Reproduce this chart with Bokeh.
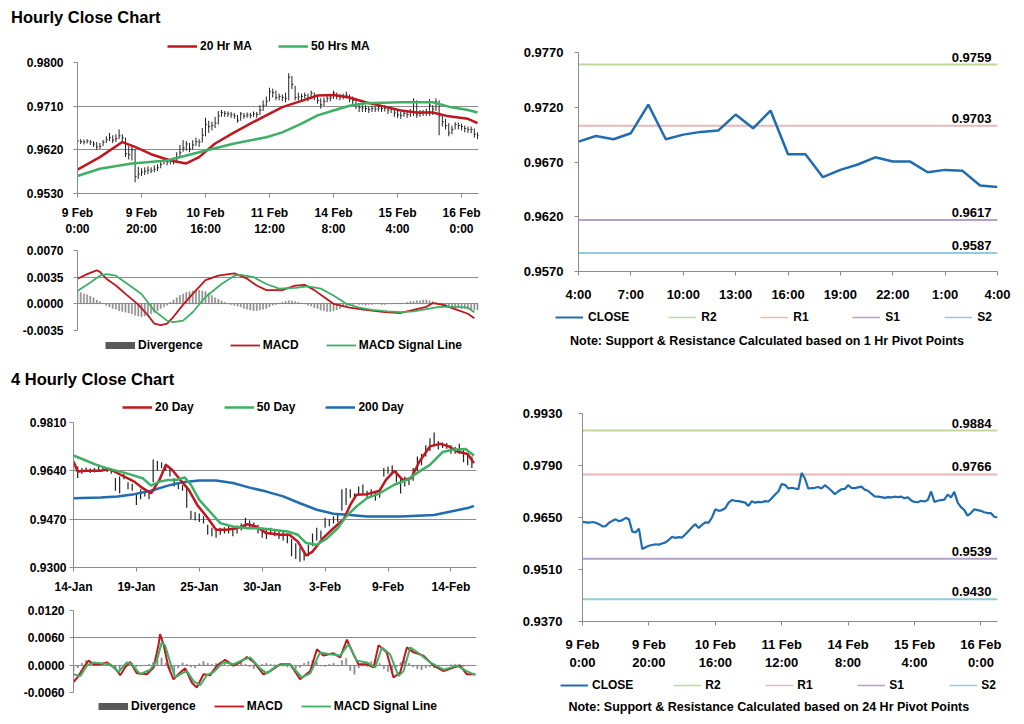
from bokeh.plotting import figure
from bokeh.models import (Range1d, FixedTicker, NumeralTickFormatter, Legend, LegendItem,
                          Label, Div, ColumnDataSource, Spacer)
from bokeh.layouts import column, row
from bokeh.core.properties import value
from bokeh.embed import file_html
from bokeh.resources import INLINE

# ---------------------------------------------------------------- data
# hourly close, 9 Feb 0:00 ... 16 Feb (126 hours)
hr_close = [
    0.9638, 0.9637, 0.9636, 0.9638, 0.9636, 0.9632, 0.9626, 0.9627, 0.9636, 0.9641,
    0.9645, 0.9640, 0.9643, 0.9649, 0.9645, 0.9612, 0.9610, 0.9620, 0.9565, 0.9570,
    0.9574, 0.9576, 0.9578, 0.9577, 0.9580, 0.9583, 0.9590, 0.9598, 0.9595, 0.9597,
    0.9596, 0.9605, 0.9614, 0.9624, 0.9632, 0.9622, 0.9630, 0.9637, 0.9636, 0.9650,
    0.9672, 0.9668, 0.9670, 0.9675, 0.9690, 0.9697, 0.9695, 0.9694, 0.9692, 0.9690,
    0.9681, 0.9694, 0.9690, 0.9692, 0.9691, 0.9694, 0.9693, 0.9702, 0.9712, 0.9720,
    0.9740, 0.9738, 0.9728, 0.9730, 0.9728, 0.9726, 0.9770, 0.9755, 0.9728, 0.9729,
    0.9730, 0.9732, 0.9728, 0.9737, 0.9730, 0.9722, 0.9713, 0.9720, 0.9726, 0.9727,
    0.9737, 0.9730, 0.9729, 0.9731, 0.9733, 0.9725, 0.9722, 0.9714, 0.9707, 0.9706,
    0.9705, 0.9703, 0.9705, 0.9704, 0.9706, 0.9705, 0.9706, 0.9702, 0.9704, 0.9696,
    0.9692, 0.9691, 0.9695, 0.9693, 0.9697, 0.9720, 0.9692, 0.9695, 0.9697, 0.9698,
    0.9712, 0.9704, 0.9719, 0.9690, 0.9678, 0.9670, 0.9655, 0.9662, 0.9672, 0.9670,
    0.9668, 0.9664, 0.9662, 0.9662, 0.9652, 0.9650]
hr_high = [
    0.9650, 0.9642, 0.9641, 0.9642, 0.9640, 0.9638, 0.9636, 0.9634, 0.9640, 0.9648,
    0.9655, 0.9650, 0.9652, 0.9662, 0.9652, 0.9645, 0.9628, 0.9630, 0.9622, 0.9585,
    0.9582, 0.9584, 0.9586, 0.9584, 0.9588, 0.9590, 0.9598, 0.9604, 0.9603, 0.9602,
    0.9604, 0.9615, 0.9630, 0.9640, 0.9638, 0.9634, 0.9640, 0.9645, 0.9642, 0.9665,
    0.9686, 0.9680, 0.9678, 0.9688, 0.9700, 0.9702, 0.9700, 0.9699, 0.9698, 0.9696,
    0.9692, 0.9698, 0.9696, 0.9697, 0.9696, 0.9699, 0.9698, 0.9712, 0.9722, 0.9730,
    0.9748, 0.9746, 0.9742, 0.9736, 0.9734, 0.9738, 0.9778, 0.9772, 0.9752, 0.9738,
    0.9736, 0.9738, 0.9736, 0.9742, 0.9738, 0.9732, 0.9726, 0.9728, 0.9732, 0.9733,
    0.9742, 0.9738, 0.9735, 0.9736, 0.9740, 0.9734, 0.9730, 0.9724, 0.9716, 0.9712,
    0.9712, 0.9710, 0.9711, 0.9710, 0.9712, 0.9710, 0.9712, 0.9710, 0.9709, 0.9704,
    0.9700, 0.9698, 0.9700, 0.9700, 0.9704, 0.9726, 0.9722, 0.9702, 0.9702, 0.9705,
    0.9725, 0.9712, 0.9726, 0.9722, 0.9690, 0.9684, 0.9675, 0.9670, 0.9677, 0.9676,
    0.9674, 0.9670, 0.9668, 0.9668, 0.9664, 0.9656]
hr_low = [
    0.9630, 0.9632, 0.9631, 0.9633, 0.9630, 0.9626, 0.9620, 0.9622, 0.9628, 0.9634,
    0.9638, 0.9634, 0.9636, 0.9642, 0.9636, 0.9605, 0.9600, 0.9598, 0.9553, 0.9560,
    0.9566, 0.9568, 0.9570, 0.9572, 0.9574, 0.9576, 0.9582, 0.9590, 0.9588, 0.9590,
    0.9590, 0.9596, 0.9605, 0.9616, 0.9618, 0.9615, 0.9620, 0.9628, 0.9626, 0.9635,
    0.9648, 0.9655, 0.9660, 0.9665, 0.9672, 0.9688, 0.9688, 0.9688, 0.9686, 0.9684,
    0.9676, 0.9680, 0.9684, 0.9686, 0.9685, 0.9688, 0.9686, 0.9692, 0.9700, 0.9710,
    0.9720, 0.9728, 0.9722, 0.9722, 0.9720, 0.9718, 0.9722, 0.9745, 0.9722, 0.9722,
    0.9722, 0.9726, 0.9720, 0.9726, 0.9722, 0.9715, 0.9705, 0.9710, 0.9718, 0.9720,
    0.9725, 0.9724, 0.9722, 0.9724, 0.9726, 0.9718, 0.9714, 0.9704, 0.9698, 0.9698,
    0.9698, 0.9696, 0.9698, 0.9698, 0.9699, 0.9698, 0.9699, 0.9694, 0.9696, 0.9688,
    0.9686, 0.9684, 0.9688, 0.9686, 0.9688, 0.9690, 0.9686, 0.9688, 0.9690, 0.9690,
    0.9690, 0.9692, 0.9700, 0.9650, 0.9668, 0.9662, 0.9648, 0.9652, 0.9662, 0.9662,
    0.9660, 0.9656, 0.9655, 0.9654, 0.9645, 0.9642]

ma20_hr_x = [0, 7, 14, 18, 23, 29, 34, 38, 43, 49, 54, 59, 64, 70, 75, 80, 85, 90, 96, 101, 106, 111, 116, 122, 125]
ma20_hr = [0.9579, 0.9605, 0.9636, 0.9626, 0.9611, 0.9598, 0.9592, 0.9605, 0.9633, 0.9656,
           0.9674, 0.9691, 0.9708, 0.9721, 0.9732, 0.9733, 0.9728, 0.9718, 0.9709, 0.9701,
           0.9697, 0.9697, 0.9689, 0.9684, 0.9675]
ma50_hr_x = [0, 7, 17, 28, 38, 49, 59, 64, 70, 75, 80, 85, 90, 101, 111, 116, 122, 125]
ma50_hr = [0.9566, 0.9581, 0.9592, 0.9598, 0.9615, 0.9633, 0.9646, 0.9656, 0.9674, 0.9691,
           0.9701, 0.9711, 0.9716, 0.9718, 0.9718, 0.9709, 0.9702, 0.9697]

macd_hr_x = [0, 3, 6, 7, 9, 12, 15, 19, 22, 24, 26, 28, 30, 33, 36, 40, 44, 49, 53, 56,
             59, 64, 68, 71, 74, 77, 80, 85, 90, 96, 101, 105, 109, 111, 114, 118, 122, 124]
macd_hr = [0.0033, 0.0039, 0.0044, 0.0042, 0.0033, 0.0024, 0.0013, -0.0001, -0.0015, -0.0026,
           -0.0028, -0.0026, -0.0017, -0.0001, 0.0013, 0.0031, 0.0037, 0.0040, 0.0033, 0.0024,
           0.0018, 0.0018, 0.0024, 0.0025, 0.0018, 0.0009, 0.0000, -0.0005, -0.0008, -0.0011,
           -0.0012, -0.0008, -0.0004, 0.0001, -0.0001, -0.0007, -0.0013, -0.0019]
sig_hr_x = [0, 4, 7, 9, 12, 15, 20, 24, 28, 30, 33, 36, 40, 45, 49, 51, 55, 59, 63, 68,
            72, 76, 80, 84, 88, 92, 97, 101, 105, 109, 113, 118, 122, 124]
sig_hr = [0.0017, 0.0028, 0.0037, 0.0039, 0.0037, 0.0028, 0.0013, -0.0009, -0.0022, -0.0024,
          -0.0022, -0.0011, 0.0009, 0.0026, 0.0037, 0.0038, 0.0035, 0.0026, 0.0020, 0.0021,
          0.0023, 0.0020, 0.0011, 0.0000, -0.0005, -0.0008, -0.0010, -0.0011, -0.0010, -0.0007,
          -0.0004, -0.0004, -0.0005, -0.0011]
div_hr = [
    0.0016, 0.0015, 0.0013, 0.0012, 0.0010, 0.0008, 0.0005, 0.0003, 0.0001,
    -0.0002, -0.0004, -0.0006, -0.0007, -0.0009, -0.0010,
    -0.0011, -0.0012, -0.0013, -0.0015, -0.0016, -0.0017, -0.0016, -0.0015,
    -0.0013, -0.0011, -0.0009, -0.0006, -0.0004, -0.0002,
    0.0002, 0.0005, 0.0008, 0.0011, 0.0013, 0.0015, 0.0016, 0.0017, 0.0018, 0.0018,
    0.0017, 0.0016, 0.0014, 0.0011, 0.0008,
    0.0006, 0.0004, 0.0002, 0.0000, -0.0001, -0.0002, -0.0003, -0.0004, -0.0006,
    -0.0007, -0.0008, -0.0009, -0.0009, -0.0008, -0.0007, -0.0006, -0.0004, -0.0002, -0.0001,
    0.0001, 0.0002, 0.0003, 0.0004, 0.0004, 0.0003, 0.0002, 0.0001, 0.0000,
    -0.0002, -0.0003, -0.0005, -0.0006, -0.0008, -0.0009, -0.0010, -0.0010, -0.0009,
    -0.0008, -0.0006, -0.0004, -0.0002,
    -0.0001, -0.0001, 0.0000, -0.0001, -0.0001, -0.0002, -0.0001, -0.0001, 0.0000, 0.0000,
    -0.0001, -0.0001, 0.0000, 0.0000, 0.0001, 0.0000, 0.0001, 0.0001, 0.0002,
    0.0003, 0.0003, 0.0004, 0.0004, 0.0005, 0.0005, 0.0004, 0.0003, 0.0002,
    0.0000, -0.0002, -0.0003, -0.0004, -0.0004, -0.0005, -0.0005, -0.0006, -0.0006,
    -0.0007, -0.0007, -0.0008, -0.0008]

hr_tick_labels = ["9 Feb\n0:00", "9 Feb\n20:00", "10 Feb\n16:00", "11 Feb\n12:00",
                  "14 Feb\n8:00", "15 Feb\n4:00", "16 Feb\n0:00"]
hr_tick_step = 20

# last 24 hours close (4:00 -> 4:00)
close24 = [0.96886, 0.96938, 0.96908, 0.96963, 0.97224, 0.96908, 0.96950, 0.96975, 0.96987,
           0.97133, 0.97008, 0.97170, 0.96771, 0.96771, 0.96561, 0.96628, 0.96677, 0.96743,
           0.96704, 0.96704, 0.96606, 0.96628, 0.96619, 0.96485, 0.96472]
h24_tick_labels = ["4:00", "7:00", "10:00", "13:00", "16:00", "19:00", "22:00", "1:00", "4:00"]
h24_tick_step = 3
pivot_names = ["R2", "R1", "S1", "S2"]
pivot_1h = [0.9759, 0.9703, 0.9617, 0.9587]
pivot_24h = [0.9884, 0.9766, 0.9539, 0.9430]

# 4-hourly chart (bar index), price bars every 2nd bar
b4_high = [
    0.9668, 0.9655, 0.9650, 0.9652, 0.9648, 0.9650, 0.9662, 0.9655, 0.9650, 0.9648,
    0.9615, 0.9620, 0.9630, 0.9600, 0.9595, 0.9560, 0.9575, 0.9570, 0.9568, 0.9680,
    0.9675, 0.9670, 0.9665, 0.9650, 0.9615, 0.9600, 0.9590, 0.9585, 0.9500, 0.9495,
    0.9490, 0.9480, 0.9450, 0.9440, 0.9438, 0.9440, 0.9442, 0.9445, 0.9440, 0.9448,
    0.9455, 0.9475, 0.9465, 0.9458, 0.9450, 0.9440, 0.9435, 0.9440, 0.9435, 0.9428,
    0.9425, 0.9420, 0.9400, 0.9385, 0.9370, 0.9360, 0.9380, 0.9420, 0.9440, 0.9430,
    0.9475, 0.9470, 0.9480, 0.9490, 0.9575, 0.9580, 0.9575, 0.9560, 0.9585, 0.9592,
    0.9570, 0.9575, 0.9565, 0.9570, 0.9650, 0.9655, 0.9660, 0.9640, 0.9610, 0.9620,
    0.9615, 0.9650, 0.9690, 0.9700, 0.9730, 0.9755, 0.9775, 0.9745, 0.9740, 0.9738,
    0.9730, 0.9725, 0.9735, 0.9715, 0.9700, 0.9690]
b4_low = [
    0.9640, 0.9615, 0.9630, 0.9636, 0.9632, 0.9634, 0.9640, 0.9640, 0.9636, 0.9630,
    0.9570, 0.9560, 0.9610, 0.9575, 0.9570, 0.9520, 0.9540, 0.9550, 0.9540, 0.9600,
    0.9640, 0.9650, 0.9640, 0.9620, 0.9585, 0.9575, 0.9570, 0.9510, 0.9470, 0.9465,
    0.9460, 0.9455, 0.9415, 0.9410, 0.9405, 0.9415, 0.9420, 0.9420, 0.9410, 0.9420,
    0.9430, 0.9440, 0.9440, 0.9435, 0.9420, 0.9405, 0.9400, 0.9415, 0.9410, 0.9400,
    0.9395, 0.9385, 0.9340, 0.9330, 0.9320, 0.9325, 0.9340, 0.9375, 0.9395, 0.9400,
    0.9440, 0.9445, 0.9455, 0.9460, 0.9500, 0.9520, 0.9545, 0.9540, 0.9555, 0.9560,
    0.9545, 0.9550, 0.9535, 0.9545, 0.9620, 0.9630, 0.9630, 0.9600, 0.9560, 0.9585,
    0.9590, 0.9605, 0.9640, 0.9660, 0.9690, 0.9710, 0.9730, 0.9715, 0.9720, 0.9718,
    0.9700, 0.9700, 0.9700, 0.9670, 0.9660, 0.9650]
ma20d_x = [0, 2, 6, 13, 17, 22, 29, 33, 37, 41, 44, 47, 51, 55, 59, 64, 68, 73, 78, 83,
           87, 92, 99, 103, 107, 111, 114, 119, 124, 129, 132, 135, 140, 146, 149, 153, 157, 161, 165, 170,
           175, 179, 183, 188, 191]
ma20d = [0.9673, 0.9638, 0.9640, 0.9640, 0.9647, 0.9628, 0.9602, 0.9579, 0.9561, 0.9608,
         0.9661, 0.9644, 0.9608, 0.9573, 0.9520, 0.9474, 0.9433, 0.9433, 0.9438, 0.9452,
         0.9444, 0.9421, 0.9415, 0.9415, 0.9391, 0.9342, 0.9356, 0.9403, 0.9438, 0.9471,
         0.9520, 0.9556, 0.9558, 0.9570, 0.9608, 0.9640, 0.9608, 0.9614, 0.9673, 0.9726,
         0.9735, 0.9726, 0.9708, 0.9699, 0.9667]
ma50d_x = [0, 5, 11, 17, 25, 33, 37, 41, 45, 49, 53, 56, 60, 65, 70, 76, 83, 89, 95, 102,
           107, 111, 116, 121, 126, 130, 135, 140, 146, 153, 159, 165, 170, 176, 181, 187, 191]
ma50d = [0.9694, 0.9679, 0.9661, 0.9647, 0.9632, 0.9614, 0.9588, 0.9602, 0.9608, 0.9608,
         0.9617, 0.9591, 0.9538, 0.9497, 0.9456, 0.9444, 0.9438, 0.9438, 0.9433, 0.9427,
         0.9415, 0.9386, 0.9380, 0.9403, 0.9438, 0.9479, 0.9515, 0.9544, 0.9561, 0.9591,
         0.9608, 0.9638, 0.9661, 0.9706, 0.9714, 0.9717, 0.9694]
ma200d_x = [0, 13, 21, 29, 37, 45, 52, 60, 68, 76, 84, 92, 100, 108, 116, 124, 132, 140, 148, 156,
            164, 172, 180, 188, 191]
ma200d = [0.9544, 0.9546, 0.9550, 0.9558, 0.9570, 0.9588, 0.9600, 0.9606, 0.9606, 0.9597,
          0.9581, 0.9567, 0.9550, 0.9526, 0.9503, 0.9489, 0.9485, 0.9479, 0.9479, 0.9479,
          0.9482, 0.9485, 0.9497, 0.9509, 0.9517]
macd4_x = [0, 2.4, 4.8, 7.2, 9.5, 12.7, 15.9, 19.9, 22.3, 24.6, 27.0, 30.2, 35.0, 38.2, 40.5, 41.3,
           42.9, 45.3, 47.7, 50.9, 53.3, 56.4, 58.8, 62.0, 65.2, 68.4, 72.3, 76.3, 79.5, 82.7, 85.9,
           90.6, 93.8, 98.6, 103.3, 108.1, 112.9, 116.1, 119.2, 124.0, 127.2, 130.4, 133.5, 135.9,
           139.9, 143.1, 145.5, 149.4, 152.6, 155.8, 159.0, 162.2, 166.9, 171.7, 176.5, 181.2,
           184.4, 187.6, 191.6]
macd4 = [-0.0037, -0.0024, -0.0005, 0.0010, 0.0002, 0.0002, 0.0006, -0.0007, -0.0022, -0.0005,
         0.0007, -0.0018, -0.0020, -0.0005, 0.0043, 0.0068, 0.0046, -0.0005, -0.0031, -0.0016,
         -0.0007, -0.0038, -0.0049, -0.0020, -0.0022, -0.0001, 0.0012, -0.0001, 0.0006, 0.0018,
         0.0007, -0.0020, -0.0013, 0.0002, 0.0002, -0.0031, -0.0013, 0.0035, 0.0021, 0.0026,
         0.0017, 0.0056, 0.0024, 0.0002, 0.0002, -0.0005, 0.0044, 0.0028, -0.0027, -0.0016,
         0.0039, 0.0028, 0.0021, -0.0001, -0.0013, -0.0005, -0.0001, -0.0020, -0.0020]
sig4_x = [0, 3.2, 6.4, 9.5, 12.7, 17.5, 21.5, 25.4, 27.8, 31.8, 36.6, 39.7, 42.1, 43.7, 46.1,
          48.5, 51.7, 54.1, 57.2, 60.4, 63.6, 66.8, 71.5, 76.3, 81.1, 84.3, 89.0, 92.2, 97.0,
          103.3, 108.9, 112.9, 117.6, 122.4, 127.2, 131.2, 135.1, 139.9, 143.9, 147.1, 151.0,
          155.0, 157.4, 160.6, 165.3, 170.1, 176.5, 182.8, 187.6, 191.6]
sig4 = [-0.0020, -0.0024, -0.0001, 0.0006, 0.0004, 0.0002, -0.0015, 0.0006, 0.0002, -0.0020,
        -0.0010, 0.0010, 0.0050, 0.0043, 0.0006, -0.0027, -0.0018, -0.0013, -0.0035, -0.0044,
        -0.0022, -0.0015, 0.0007, 0.0002, 0.0012, 0.0017, -0.0007, -0.0018, -0.0001, 0.0002,
        -0.0027, -0.0018, 0.0028, 0.0024, 0.0021, 0.0046, 0.0010, 0.0006, -0.0005, 0.0039,
        0.0024, -0.0024, -0.0013, 0.0039, 0.0024, 0.0006, -0.0010, -0.0001, -0.0013, -0.0022]
div4 = [
    -0.0012, -0.0006, 0.0004, 0.0010, 0.0008, 0.0002,
    0.0000, 0.0002, 0.0004, -0.0002, -0.0006, -0.0009,
    -0.0004, 0.0006, 0.0004, -0.0004, -0.0002, -0.0001,
    0.0002, 0.0006, 0.0012, 0.0016, 0.0005, -0.0013,
    -0.0020, -0.0006, 0.0005, 0.0002, -0.0004, -0.0006,
    0.0003, 0.0008, 0.0004, 0.0002, 0.0004, 0.0006,
    0.0004, -0.0002, -0.0002, 0.0003, 0.0004, 0.0002,
    -0.0003, -0.0008, -0.0006, 0.0002, 0.0004, 0.0002,
    0.0001, 0.0000, -0.0002, -0.0004, -0.0006, -0.0008,
    -0.0005, 0.0004, 0.0008, 0.0010, 0.0006, -0.0002,
    -0.0003, 0.0002, 0.0004, -0.0002, 0.0010, 0.0015,
    -0.0012, -0.0020, -0.0006, -0.0002, -0.0003, 0.0008,
    0.0012, 0.0004, -0.0008, -0.0014, -0.0018, -0.0004,
    0.0006, 0.0010, 0.0004, -0.0004, -0.0008, -0.0010,
    -0.0006, -0.0004, -0.0006, -0.0004, -0.0002, -0.0001,
    0.0001, 0.0002, 0.0002, -0.0003, -0.0002, -0.0001]
d4_tick_labels = ["14-Jan", "19-Jan", "25-Jan", "30-Jan", "3-Feb", "9-Feb", "14-Feb"]
d4_tick_step = 30
d4_bar_step = 2

yt_hr = [0.9530, 0.9620, 0.9710, 0.9800]
yt_macd_hr = [-0.0035, 0.0000, 0.0035, 0.0070]
yt_24 = [0.9570, 0.9620, 0.9670, 0.9720, 0.9770]
yt_d4 = [0.9300, 0.9470, 0.9640, 0.9810]
yt_macd_d4 = [-0.0060, 0.0000, 0.0060, 0.0120]
yt_piv24 = [0.9370, 0.9510, 0.9650, 0.9790, 0.9930]

# ---------------------------------------------------------------- style
FONT = "Liberation Sans"
GRID = "#8c8c8c"
RED = "#c0161d"
GREEN = "#3cb064"
BLUE = "#1f6cb0"
DIVC = "#8a8a8a"
DIVL = "#595959"
PIV_COLORS = ["#c4d79b", "#e6b9b8", "#b3a2c7", "#93cddd"]
LW = 500   # left column width
RW = 522   # right column width
# frame borders (left, right) shared by every figure of one column
B_TL = (77, 22)
B_BL = (73, 24)
B_TR = (78, 25)
B_BR = (82, 25)
NO_B = (0, 0)


def base(w, h, xr, yr, lr, tb, yticks, fs="12px", ystand=10, xstand=8, grid=True, xaxis=True):
    p = figure(width=w, height=h, x_range=Range1d(*xr), y_range=Range1d(*yr),
               output_backend="svg", toolbar_location=None,
               x_axis_location=("below" if xaxis else None),
               min_border_left=lr[0], min_border_right=lr[1],
               min_border_top=tb[0], min_border_bottom=tb[1])
    p.outline_line_color = None
    p.background_fill_color = "white"
    p.border_fill_color = "white"
    for g in p.grid:
        if g.dimension == 0:
            g.visible = False
        else:
            g.visible = grid
            g.grid_line_color = GRID
    p.yaxis.ticker = FixedTicker(ticks=yticks)
    p.yaxis.formatter = NumeralTickFormatter(format="0.0000")
    for ax in p.axis:
        ax.axis_line_color = GRID
        ax.major_tick_line_color = GRID
        ax.major_tick_out = 4
        ax.major_tick_in = 0
        ax.minor_tick_line_color = None
        ax.major_label_text_font = FONT
        ax.major_label_text_font_style = "bold"
        ax.major_label_text_font_size = fs
        ax.major_label_text_color = "black"
    p.yaxis.major_label_standoff = ystand
    if xaxis:
        p.xaxis.major_label_standoff = xstand
    return p


def set_xticks(p, labels, step):
    ticks = [i * step for i in range(len(labels))]
    p.xaxis.ticker = FixedTicker(ticks=ticks)
    p.xaxis.major_label_overrides = {t: l for t, l in zip(ticks, labels)}


def strip(w, h, lr, fill="white"):
    s = figure(width=w, height=h, x_range=Range1d(0, 1), y_range=Range1d(0, 1),
               output_backend="svg", toolbar_location=None,
               x_axis_location=None, y_axis_location=None,
               min_border_left=lr[0], min_border_right=lr[1], min_border_top=0, min_border_bottom=0)
    s.outline_line_color = None
    s.background_fill_color = fill
    s.border_fill_color = fill
    for g in s.grid:
        g.visible = False
    return s


def legend_strip(w, h, lr, specs, x0, y0, spacing=28, gw=30, standoff=3):
    """specs: (label, color, line width, xs, ys) - the series is only referenced, never shown"""
    s = strip(w, h, lr)
    items = []
    for label, color, lw, xs, ys in specs:
        r = s.line(xs, ys, line_color=color, line_width=lw, visible=False)
        items.append(LegendItem(label=label, renderers=[r]))
    lg = Legend(items=items, orientation="horizontal", location=(x0, y0),
                label_text_font=FONT, label_text_font_style="bold",
                label_text_font_size="12px", label_text_color="black",
                glyph_width=gw, glyph_height=12, label_height=12, label_standoff=standoff,
                spacing=spacing, padding=0, margin=0, click_policy="none",
                border_line_color=None, background_fill_alpha=0)
    s.add_layout(lg, "center")
    return s


def note_strip(w, h, lr, xc, text):
    s = strip(w, h, lr)
    s.add_layout(Label(x=xc, y=0.5, text=text, text_align="center", text_baseline="middle",
                       text_font=FONT, text_font_style="bold", text_font_size="12.5px",
                       text_color="black"))
    return s


hours = list(range(len(hr_close)))
h24 = list(range(len(close24)))
bx = [i * d4_bar_step for i in range(len(b4_high))]

# ---------------- A: hourly price
pA = base(LW, 185, (0, 125.3), (yt_hr[0], yt_hr[-1]), B_TL, (7, 47), yt_hr)
set_xticks(pA, hr_tick_labels, hr_tick_step)
pA.segment(x0=hours, y0=hr_low, x1=hours, y1=hr_high, line_color="#222222", line_width=1)
pA.segment(x0=hours, y0=hr_close, x1=[h + 0.45 for h in hours], y1=hr_close,
           line_color="#222222", line_width=1)
pA.line(ma20_hr_x, ma20_hr, line_color=RED, line_width=2.5)
pA.line(ma50_hr_x, ma50_hr, line_color=GREEN, line_width=2.5)
legA = legend_strip(LW, 23, B_TL, [("20 Hr MA", RED, 2.5, ma20_hr_x, ma20_hr),
                                   ("50 Hrs MA", GREEN, 2.5, ma50_hr_x, ma50_hr)],
                    x0=90, y0=2, spacing=26)

# ---------------- B: hourly MACD
pB = base(LW, 98, (0, 125.3), (yt_macd_hr[0], yt_macd_hr[-1]), B_TL, (10, 8), yt_macd_hr,
          xaxis=False)
pB.vbar(x=hours, top=div_hr, bottom=0, width=0.35, fill_color=DIVC, line_color=DIVC,
        line_width=0.5)
pB.line(macd_hr_x, macd_hr, line_color=RED, line_width=1.8)
pB.line(sig_hr_x, sig_hr, line_color=GREEN, line_width=1.8)
legB = legend_strip(LW, 16, B_TL, [("Divergence", DIVL, 7, hours, div_hr),
                                   ("MACD", RED, 1.8, macd_hr_x, macd_hr),
                                   ("MACD Signal Line", GREEN, 1.8, sig_hr_x, sig_hr)],
                    x0=28, y0=2, spacing=27)

# ---------------- C: last 24h close with 1h pivots
pC = base(RW, 274, (h24[0], h24[-1]), (yt_24[0], yt_24[-1]), B_TR, (20, 35), yt_24,
          fs="13px", ystand=11, xstand=11, grid=False)
set_xticks(pC, h24_tick_labels, h24_tick_step)
for v, c in zip(pivot_1h, PIV_COLORS):
    pC.line([h24[0], h24[-1]], [v, v], line_color=c, line_width=2)
pC.line(h24, close24, line_color=BLUE, line_width=2.5)
srcC = ColumnDataSource(dict(x=[h24[-1]] * len(pivot_1h), y=pivot_1h,
                             t=[f"{v:.4f}" for v in pivot_1h]))
pC.text(x="x", y="y", text="t", source=srcC, text_align="right", text_baseline="bottom",
        x_offset=-6, y_offset=-3, text_font=value(FONT), text_font_style="bold",
        text_font_size="13px", text_color="black")
legC = legend_strip(RW, 22, NO_B, [("CLOSE", BLUE, 2, h24, close24)] +
                    [(n, c, 1.5, [h24[0], h24[-1]], [v, v])
                     for n, c, v in zip(pivot_names, PIV_COLORS, pivot_1h)],
                    x0=55, y0=4, spacing=39, gw=28, standoff=5)
noteC = note_strip(RW, 24, NO_B, 0.5105,
                   "Note: Support & Resistance Calculated based on 1 Hr Pivot Points")

# ---------------- D: 4-hourly price
pD = base(LW, 185, (0, 192.2), (yt_d4[0], yt_d4[-1]), B_BL, (7, 33), yt_d4, ystand=3, xstand=8)
set_xticks(pD, d4_tick_labels, d4_tick_step)
pD.segment(x0=bx, y0=b4_low, x1=bx, y1=b4_high, line_color="#222222", line_width=1.2)
pD.line(ma200d_x, ma200d, line_color=BLUE, line_width=2.5)
pD.line(ma20d_x, ma20d, line_color=RED, line_width=2.5)
pD.line(ma50d_x, ma50d, line_color=GREEN, line_width=2.5)
legD = legend_strip(LW, 25, B_BL, [("20 Day", RED, 2.5, ma20d_x, ma20d),
                                   ("50 Day", GREEN, 2.5, ma50d_x, ma50d),
                                   ("200 Day", BLUE, 2.5, ma200d_x, ma200d)],
                    x0=49, y0=1, spacing=30)

# ---------------- E: 4-hourly MACD
pE = base(LW, 100, (0, 192.2), (yt_macd_d4[0], yt_macd_d4[-1]), B_BL, (10, 8), yt_macd_d4,
          ystand=5, xaxis=False)
pE.vbar(x=bx, top=div4, bottom=0, width=0.6, fill_color=DIVC, line_color=DIVC, line_width=0.5)
pE.line(macd4_x, macd4, line_color=RED, line_width=2)
pE.line(sig4_x, sig4, line_color=GREEN, line_width=2)
legE = legend_strip(LW, 14, B_BL, [("Divergence", DIVL, 7, bx, div4),
                                   ("MACD", RED, 1.8, macd4_x, macd4),
                                   ("MACD Signal Line", GREEN, 1.8, sig4_x, sig4)],
                    x0=25, y0=1, spacing=18)

# ---------------- F: hourly close with 24h pivots
pF = base(RW, 282, (0, 125), (yt_piv24[0], yt_piv24[-1]), B_BR, (23, 49), yt_piv24,
          fs="13px", ystand=16, xstand=11, grid=False)
set_xticks(pF, hr_tick_labels, hr_tick_step)
for v, c in zip(pivot_24h, PIV_COLORS):
    pF.line([hours[0], hours[-1]], [v, v], line_color=c, line_width=2)
pF.line(hours, hr_close, line_color=BLUE, line_width=2.2)
srcF = ColumnDataSource(dict(x=[hours[-1]] * len(pivot_24h), y=pivot_24h,
                             t=[f"{v:.4f}" for v in pivot_24h]))
pF.text(x="x", y="y", text="t", source=srcF, text_align="right", text_baseline="bottom",
        x_offset=-6, y_offset=-3, text_font=value(FONT), text_font_style="bold",
        text_font_size="13px", text_color="black")
legF = legend_strip(RW, 26, NO_B, [("CLOSE", BLUE, 2, hours, hr_close)] +
                    [(n, c, 1.5, [hours[0], hours[-1]], [v, v])
                     for n, c, v in zip(pivot_names, PIV_COLORS, pivot_24h)],
                    x0=60, y0=6, spacing=40, gw=28, standoff=4)
noteF = note_strip(RW, 16, NO_B, 0.514,
                   "Note: Support & Resistance Calculated based on 24 Hr Pivot Points")

# ---------------- page layout
TSTYLE = {"font-family": FONT, "font-weight": "bold", "font-size": "16.5px",
          "line-height": "17px", "color": "black", "padding-left": "11px"}
title1 = Div(text="Hourly Close Chart", width=LW + RW, height=32, margin=0,
             styles=dict(TSTYLE, **{"padding-top": "9px"}))
title2 = Div(text="4 Hourly Close Chart", width=LW + RW, height=24, margin=0,
             styles=dict(TSTYLE, **{"padding-top": "5px"}))
sep1 = strip(LW + RW, 2, NO_B, fill=GRID)
sep2 = strip(LW + RW, 2, NO_B, fill=GRID)

# every plot of the right columns sits in its own row, so that frames are not aligned
top_block = row(column(legA, pA, pB, legB, spacing=0),
                column(row(pC), row(legC), row(noteC), spacing=0), spacing=0)
bottom_block = row(column(legD, pD, pE, legE, spacing=0),
                   column(row(pF), row(legF), row(noteF), spacing=0), spacing=0)
root = column(title1, top_block,
              Spacer(width=LW + RW, height=5), sep1, Spacer(width=LW + RW, height=5),
              title2, bottom_block,
              Spacer(width=LW + RW, height=4), sep2, spacing=0)

open("out.html", "w").write(file_html(root, INLINE, title="Hourly Close Chart"))
